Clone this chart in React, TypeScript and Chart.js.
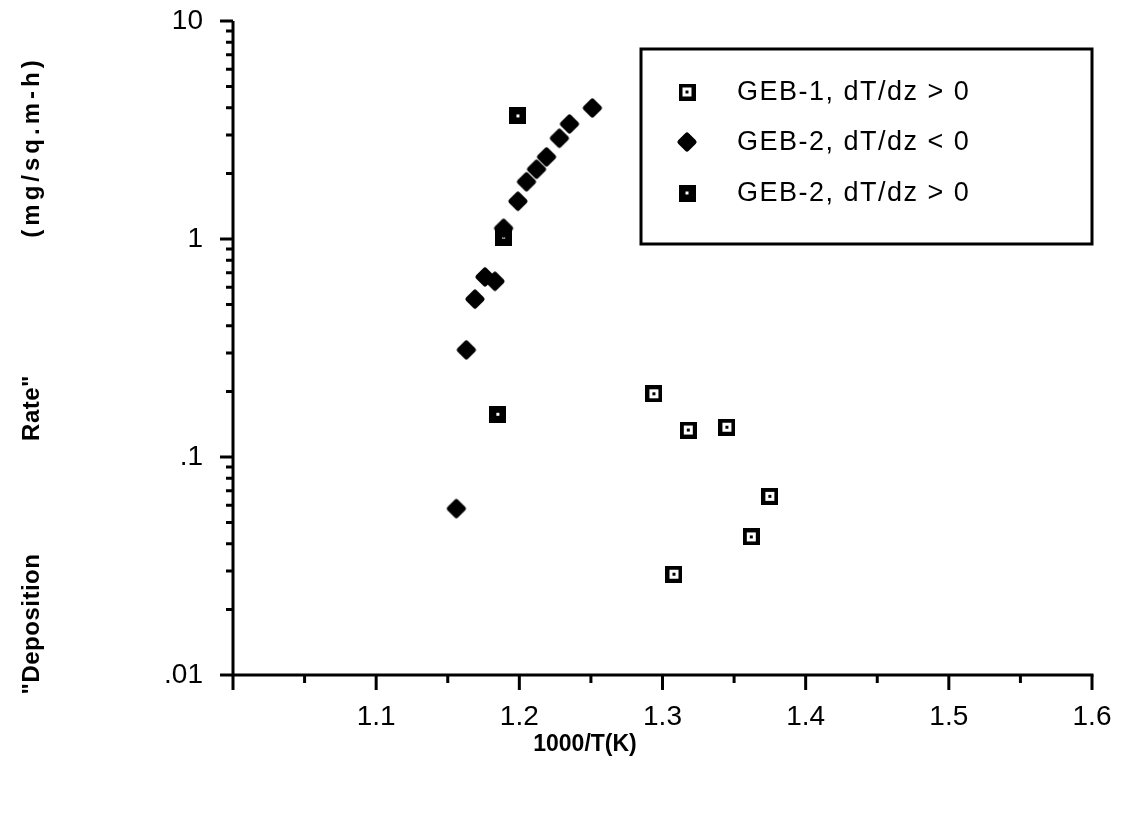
import { useEffect, useRef } from 'react';
import { Chart, registerables } from 'chart.js';

Chart.register(...registerables);

const seriesLabels = ['GEB-1, dT/dz > 0', 'GEB-2, dT/dz < 0', 'GEB-2, dT/dz > 0'];

const geb1X = [1.294, 1.318, 1.345, 1.375, 1.362, 1.308];
const geb1Y = [0.195, 0.133, 0.137, 0.066, 0.043, 0.029];

const geb2NegX = [1.156, 1.163, 1.169, 1.176, 1.183, 1.189, 1.199, 1.205, 1.212, 1.219, 1.228, 1.235, 1.251];
const geb2NegY = [0.058, 0.31, 0.53, 0.67, 0.64, 1.12, 1.49, 1.83, 2.09, 2.38, 2.9, 3.37, 3.99];

const geb2PosX = [1.199, 1.189, 1.185];
const geb2PosY = [3.67, 1.02, 0.157];

const xTickValues = [1.1, 1.2, 1.3, 1.4, 1.5, 1.6];
const xTickLabels = ['1.1', '1.2', '1.3', '1.4', '1.5', '1.6'];
const xMajorMarks = [1.0, 1.1, 1.2, 1.3, 1.4, 1.5, 1.6];
const xMinorMarks = [1.05, 1.15, 1.25, 1.35, 1.45, 1.55];

const yTickValues = [0.01, 0.1, 1, 10];
const yTickLabels = ['.01', '.1', '1', '10'];
const yMinorMarks = [
  0.02, 0.03, 0.04, 0.05, 0.06, 0.07, 0.08, 0.09,
  0.2, 0.3, 0.4, 0.5, 0.6, 0.7, 0.8, 0.9,
  2, 3, 4, 5, 6, 7, 8, 9,
];

const xTitle = '1000/T(K)';
const yTitleParts = ['"Deposition', 'Rate"', '(mg/sq.m-h)'];

const FONT = '"Liberation Sans", Arial, Helvetica, sans-serif';

function makeMarker(w: number, h: number, draw: (g: CanvasRenderingContext2D) => void) {
  const c = document.createElement('canvas');
  c.width = w;
  c.height = h;
  const g = c.getContext('2d')!;
  draw(g);
  return c;
}

export default function App() {
  const ref = useRef<HTMLCanvasElement>(null);

  useEffect(() => {
    const canvas = ref.current!;

    const hollowSq = makeMarker(17, 17, (g) => {
      g.fillStyle = '#000';
      g.fillRect(0, 0, 17, 17);
      g.fillStyle = '#fff';
      g.fillRect(4, 4, 9, 9);
      g.fillStyle = '#000';
      g.fillRect(7, 7, 3, 3);
    });
    const filledSq = makeMarker(17, 17, (g) => {
      g.fillStyle = '#000';
      g.fillRect(0, 0, 17, 17);
      g.fillStyle = '#fff';
      g.fillRect(7, 7, 3, 3);
    });
    const diamond = makeMarker(22, 22, (g) => {
      g.translate(11, 11);
      g.rotate(Math.PI / 4);
      g.fillStyle = '#000';
      g.strokeStyle = '#000';
      g.lineWidth = 5;
      g.lineJoin = 'round';
      g.fillRect(-5, -5, 10, 10);
      g.strokeRect(-5, -5, 10, 10);
    });
    const markers = [hollowSq, diamond, filledSq];

    const decor = {
      id: 'decor',
      afterDraw(chart: any) {
        const { ctx, chartArea } = chart;
        const xs = chart.scales.x;
        const ys = chart.scales.y;
        const { left, right, top, bottom } = chartArea;
        ctx.save();
        ctx.strokeStyle = '#000';
        ctx.lineWidth = 3;
        ctx.lineCap = 'butt';
        // axes
        ctx.beginPath();
        ctx.moveTo(left, top);
        ctx.lineTo(left, bottom + 1.5);
        ctx.moveTo(left - 1.5, bottom);
        ctx.lineTo(right + 1.5, bottom);
        ctx.stroke();
        // x ticks
        ctx.beginPath();
        xMajorMarks.forEach((v) => {
          const p = xs.getPixelForValue(v);
          ctx.moveTo(p, bottom);
          ctx.lineTo(p, bottom + 15);
        });
        xMinorMarks.forEach((v) => {
          const p = xs.getPixelForValue(v);
          ctx.moveTo(p, bottom);
          ctx.lineTo(p, bottom + 8);
        });
        // y ticks
        yTickValues.forEach((v) => {
          const p = ys.getPixelForValue(v);
          ctx.moveTo(left - 13, p);
          ctx.lineTo(left, p);
        });
        yMinorMarks.forEach((v) => {
          const p = ys.getPixelForValue(v);
          ctx.moveTo(left - 7, p);
          ctx.lineTo(left, p);
        });
        ctx.stroke();

        // legend
        ctx.lineWidth = 3;
        ctx.strokeRect(641, 49, 451, 195);
        ctx.fillStyle = '#000';
        ctx.font = `27px ${FONT}`;
        (ctx as any).letterSpacing = '1.5px';
        ctx.textAlign = 'left';
        ctx.textBaseline = 'middle';
        const rowsY = [92, 142, 193];
        seriesLabels.forEach((lab, i) => {
          const m = markers[i];
          ctx.drawImage(m, 687 - m.width / 2, rowsY[i] - m.height / 2);
          ctx.fillText(lab, 737, rowsY[i] + 1);
        });
        (ctx as any).letterSpacing = '0px';

        // x title
        ctx.font = `bold 23px ${FONT}`;
        ctx.textAlign = 'center';
        ctx.fillText(xTitle, 585, 745);

        // y title
        ctx.font = `bold 24px ${FONT}`;
        ctx.translate(32, 0);
        ctx.rotate(-Math.PI / 2);
        const yCenters = [624, 408, 147];
        yTitleParts.forEach((t, i) => {
          (ctx as any).letterSpacing = i === 2 ? '4px' : '0.5px';
          ctx.fillText(t, -yCenters[i], 0);
        });
        (ctx as any).letterSpacing = '0px';
        ctx.restore();
      },
    };

    const chart = new Chart(canvas, {
      type: 'scatter',
      data: {
        datasets: [
          {
            label: seriesLabels[0],
            data: geb1X.map((x, i) => ({ x, y: geb1Y[i] })),
            pointStyle: hollowSq as any,
            pointRadius: 9,
            showLine: false,
          },
          {
            label: seriesLabels[1],
            data: geb2NegX.map((x, i) => ({ x, y: geb2NegY[i] })),
            pointStyle: diamond as any,
            pointRadius: 9,
            showLine: false,
          },
          {
            label: seriesLabels[2],
            data: geb2PosX.map((x, i) => ({ x, y: geb2PosY[i] })),
            pointStyle: filledSq as any,
            pointRadius: 9,
            showLine: false,
          },
        ],
      },
      options: {
        responsive: false,
        animation: false,
        events: [],
        layout: { padding: { left: 0, top: 21, right: 49, bottom: 0 } },
        plugins: {
          legend: { display: false },
          tooltip: { enabled: false },
          title: { display: false },
        },
        scales: {
          x: {
            type: 'linear',
            min: 1.0,
            max: 1.6,
            afterBuildTicks: (s: any) => {
              s.ticks = xTickValues.map((v) => ({ value: v }));
            },
            afterFit: (s: any) => {
              s.height = 138;
              s.paddingLeft = 0;
              s.paddingRight = 0;
            },
            grid: { display: false },
            border: { display: false },
            ticks: {
              autoSkip: false,
              maxRotation: 0,
              padding: 17,
              color: '#000',
              font: { family: FONT, size: 28 },
              callback: (_v: any, i: number) => xTickLabels[i],
            },
          },
          y: {
            type: 'logarithmic',
            min: 0.01,
            max: 10,
            afterBuildTicks: (s: any) => {
              s.ticks = yTickValues.map((v) => ({ value: v }));
            },
            afterFit: (s: any) => {
              s.width = 233;
              s.paddingTop = 0;
              s.paddingBottom = 0;
            },
            grid: { display: false },
            border: { display: false },
            ticks: {
              autoSkip: false,
              padding: 22,
              color: '#000',
              font: { family: FONT, size: 28 },
              callback: (_v: any, i: number) => yTickLabels[i],
            },
          },
        },
      },
      plugins: [decor],
    } as any);

    return () => chart.destroy();
  }, []);

  return (
    <div style={{ position: 'fixed', left: 0, top: 0, width: 1141, height: 813, background: '#fff' }}>
      <canvas ref={ref} width={1141} height={813} style={{ display: 'block' }} />
    </div>
  );
}
